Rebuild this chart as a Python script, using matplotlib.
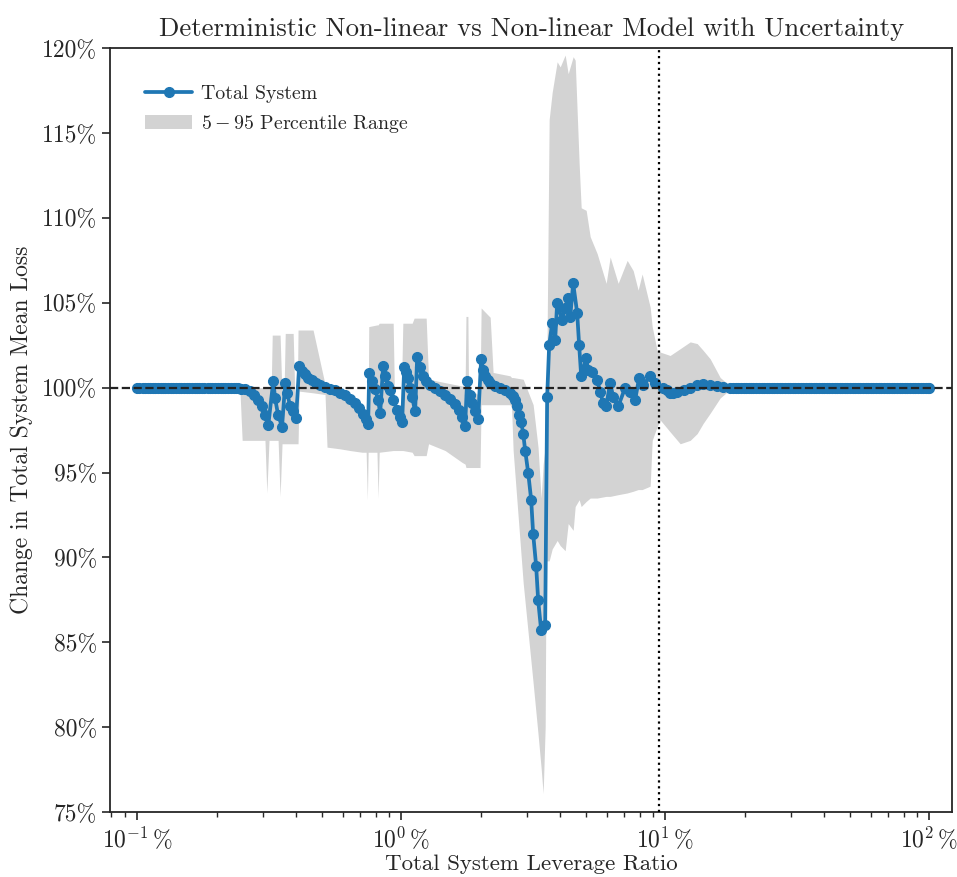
import numpy as np
import matplotlib
matplotlib.use("Agg")
import matplotlib.pyplot as plt
import seaborn as sns
from matplotlib.ticker import FuncFormatter, MultipleLocator, NullFormatter

# leverage ratio (%) and change in total system mean loss (%), deterministic run
# flat start
lev_left = [
    0.100, 0.102, 0.105, 0.107, 0.110, 0.112, 0.115, 0.117, 0.120, 0.123,
    0.125, 0.128, 0.131, 0.134, 0.137, 0.141, 0.144, 0.147, 0.150, 0.154,
    0.157, 0.161, 0.165, 0.169, 0.172, 0.176, 0.180, 0.185, 0.189, 0.193,
    0.198, 0.202, 0.207, 0.212, 0.216, 0.221, 0.226, 0.232, 0.237, 0.242,
    0.248,
]
loss_left = [
    100.0, 100.0, 100.0, 100.0, 100.0, 100.0, 100.0, 100.0, 100.0, 100.0,
    100.0, 100.0, 100.0, 100.0, 100.0, 100.0, 100.0, 100.0, 100.0, 100.0,
    100.0, 100.0, 100.0, 100.0, 100.0, 100.0, 100.0, 100.0, 100.0, 100.0,
    100.0, 100.0, 100.0, 100.0, 100.0, 100.0, 99.99, 99.99, 99.98, 99.97,
    99.95,
]
# saw-tooth part
lev_mid = [
    0.257, 0.268, 0.278,
    0.287, 0.298, 0.305, 0.314, 0.328, 0.333, 0.342, 0.354, 0.364, 0.370,
    0.380, 0.390, 0.400, 0.411, 0.422, 0.433, 0.444, 0.460, 0.476, 0.493,
    0.515, 0.538, 0.562, 0.587, 0.614, 0.641, 0.670, 0.693, 0.718, 0.737,
    0.750, 0.757, 0.777, 0.797, 0.818, 0.833, 0.855, 0.870, 0.893, 0.909,
    0.933, 0.966, 0.991, 1.009, 1.027, 1.044, 1.063, 1.082, 1.101, 1.130,
    1.150, 1.180, 1.212, 1.244, 1.288, 1.346, 1.405, 1.468, 1.533, 1.601,
    1.658, 1.702, 1.747, 1.778, 1.825, 1.857, 1.907, 1.958, 2.009, 2.045,
    2.081, 2.136, 2.174, 2.271, 2.371, 2.477, 2.587, 2.656, 2.703, 2.751,
    2.799, 2.848, 2.899, 2.950, 3.028, 3.108, 3.162, 3.246, 3.303, 3.391,
    3.512, 3.573, 3.636, 3.733, 3.831, 3.899, 4.073, 4.181, 4.292, 4.368,
    4.483, 4.642, 4.723, 4.807, 5.021, 5.109, 5.290, 5.526, 5.672, 5.823,
    5.977, 6.190, 6.353, 6.637, 7.054, 7.369, 7.698, 7.972, 8.254, 8.773,
    9.166, 9.826, 10.18, 10.44, 10.72, 11.10, 11.80, 12.44, 13.22, 13.93,
    14.81, 15.74, 16.59, 17.63,
]
loss_mid = [
    99.9, 99.8, 99.6,
    99.3, 98.9, 98.4, 97.8, 100.4, 99.4, 98.4, 97.7, 100.3, 99.7,
    98.9, 98.6, 98.2, 101.3, 101.0, 100.8, 100.6, 100.45, 100.3, 100.15,
    100.05, 99.95, 99.85, 99.7, 99.55, 99.35, 99.1, 98.8, 98.45, 98.15,
    97.85, 100.85, 100.4, 99.9, 99.3, 98.5, 101.3, 100.7, 100.1, 99.85,
    99.3, 98.7, 98.3, 98.0, 101.2, 100.9, 100.6, 100.0, 99.45, 98.6,
    101.8, 101.2, 100.7, 100.4, 100.15, 100.0, 99.8, 99.6, 99.35, 99.05,
    98.7, 98.3, 97.75, 100.4, 99.6, 99.1, 98.6, 98.15, 101.7, 101.05,
    100.7, 100.45, 100.3, 100.1, 100.0, 99.85, 99.7, 99.5, 99.3, 98.9,
    98.4, 98.0, 97.3, 96.3, 95.0, 93.4, 91.4, 89.5, 87.5, 85.7,
    86.0, 99.45, 102.5, 103.8, 102.8, 105.0, 104.0, 104.7, 105.3, 104.15,
    106.15, 104.4, 102.5, 100.7, 101.75, 101.05, 100.95, 100.45, 99.75, 99.1,
    98.9, 100.3, 99.45, 98.9, 100.0, 99.75, 99.3, 100.6, 100.15, 100.7,
    100.3, 100.0, 99.85, 99.7, 99.7, 99.75, 99.85, 100.0, 100.15, 100.2,
    100.15, 100.1, 100.05, 100.0,
]
# flat end
lev_right = [
    18.0, 18.5, 18.9, 19.3, 19.8, 20.2, 20.7, 21.1, 21.6, 22.1,
    22.6, 23.2, 23.7, 24.2, 24.8, 25.4, 25.9, 26.5, 27.2, 27.8,
    28.4, 29.1, 29.7, 30.4, 31.1, 31.8, 32.6, 33.3, 34.1, 34.9,
    35.7, 36.5, 37.3, 38.2, 39.1, 40.0, 40.9, 41.8, 42.8, 43.8,
    44.8, 45.8, 46.8, 47.9, 49.0, 50.2, 51.3, 52.5, 53.7, 54.9,
    56.2, 57.5, 58.8, 60.1, 61.5, 62.9, 64.4, 65.9, 67.4, 68.9,
    70.5, 72.1, 73.8, 75.5, 77.2, 79.0, 80.8, 82.7, 84.6, 86.5,
    88.5, 90.6, 92.7, 94.8, 97.0, 99.2, 100.0,
]
loss_right = [
    100.0, 100.0, 100.0, 100.0, 100.0, 100.0, 100.0, 100.0, 100.0, 100.0,
    100.0, 100.0, 100.0, 100.0, 100.0, 100.0, 100.0, 100.0, 100.0, 100.0,
    100.0, 100.0, 100.0, 100.0, 100.0, 100.0, 100.0, 100.0, 100.0, 100.0,
    100.0, 100.0, 100.0, 100.0, 100.0, 100.0, 100.0, 100.0, 100.0, 100.0,
    100.0, 100.0, 100.0, 100.0, 100.0, 100.0, 100.0, 100.0, 100.0, 100.0,
    100.0, 100.0, 100.0, 100.0, 100.0, 100.0, 100.0, 100.0, 100.0, 100.0,
    100.0, 100.0, 100.0, 100.0, 100.0, 100.0, 100.0, 100.0, 100.0, 100.0,
    100.0, 100.0, 100.0, 100.0, 100.0, 100.0, 100.0,
]

# 5-95 percentile range of the model with uncertainty
lev_band = [
    0.100, 0.245, 0.250, 0.305, 0.310, 0.316, 0.322, 0.325, 0.342, 0.348,
    0.354, 0.360, 0.364, 0.390, 0.397, 0.404, 0.407, 0.411, 0.464, 0.515,
    0.524, 0.587, 0.641, 0.711, 0.737, 0.745, 0.750, 0.754, 0.810, 0.818,
    0.826, 0.933, 0.945, 1.000, 1.015, 1.101, 1.120, 1.244, 1.270, 1.468,
    1.702, 1.747, 1.760, 1.790, 1.800, 1.990, 2.009, 2.174, 2.230, 2.587,
    2.620, 2.656, 2.899, 3.162, 3.300, 3.390, 3.450, 3.512, 3.540, 3.573,
    3.636, 3.733, 3.899, 4.003, 4.181, 4.292, 4.483, 4.562, 4.723, 4.807,
    5.021, 5.200, 5.526, 5.977, 6.190, 6.637, 7.180, 7.565, 7.900, 8.180,
    8.773, 8.930, 9.320, 9.580, 10.44, 11.40, 12.44, 13.22, 13.93, 14.81,
    16.16, 17.63, 20.00, 100.0,
]
band_low = [
    100.0, 100.0, 96.9, 96.9, 93.8, 96.9, 96.9, 96.9, 96.9, 93.6,
    96.7, 96.7, 96.7, 96.7, 96.7, 96.7, 96.7, 99.8, 99.7, 99.6,
    96.5, 96.4, 96.3, 96.2, 96.2, 93.4, 96.2, 96.2, 96.2, 93.5,
    96.2, 96.3, 96.3, 96.3, 96.3, 96.2, 96.0, 96.0, 96.7, 96.3,
    95.6, 95.5, 95.3, 95.3, 95.3, 95.3, 99.0, 99.0, 99.0, 99.0,
    98.8, 96.3, 88.5, 82.6, 79.6, 77.6, 76.1, 80.0, 89.8, 89.8,
    89.8, 90.5, 91.0, 90.7, 90.4, 92.0, 91.6, 93.0, 93.4, 93.0,
    93.3, 93.5, 93.5, 93.6, 93.6, 93.7, 93.8, 93.9, 94.0, 94.0,
    94.2, 96.9, 97.7, 98.1, 97.4, 96.7, 96.9, 97.3, 97.9, 98.5,
    99.4, 99.9, 100.0, 100.0,
]
band_high = [
    100.0, 100.0, 100.0, 100.0, 100.0, 100.0, 100.0, 103.1, 103.1, 103.1,
    99.5, 99.5, 103.2, 103.2, 98.8, 98.8, 103.4, 103.4, 103.4, 100.2,
    100.1, 99.9, 99.5, 98.9, 98.4, 98.2, 98.1, 103.6, 103.7, 103.7,
    103.8, 103.8, 99.0, 99.0, 103.8, 103.8, 104.1, 104.1, 100.5, 100.3,
    100.1, 100.1, 104.2, 104.2, 100.0, 99.5, 104.7, 104.15, 100.9, 100.7,
    100.6, 100.6, 100.5, 99.0, 96.5, 93.5, 95.5, 96.5, 97.5, 103.4,
    115.8, 117.4, 119.2, 118.9, 119.6, 118.5, 119.5, 119.3, 113.2, 110.6,
    110.45, 108.9, 107.9, 106.15, 107.7, 106.15, 107.5, 106.9, 105.75, 106.7,
    104.75, 103.6, 102.2, 102.1, 101.9, 102.3, 102.7, 102.6, 102.2, 101.7,
    100.6, 100.1, 100.0, 100.0,
]

baseline = 100.0
vline_lev = 9.5

lev_line = lev_left + lev_mid + lev_right
loss_line = loss_left + loss_mid + loss_right

sns.set_style("ticks")
plt.rcParams["font.family"] = "serif"
plt.rcParams["font.serif"] = ["cmr10"]
plt.rcParams["mathtext.fontset"] = "cm"
plt.rcParams["axes.formatter.use_mathtext"] = True
plt.rcParams["axes.unicode_minus"] = False

fig = plt.figure(figsize=(9.57, 8.77), dpi=100)
ax = fig.add_axes([0.115, 0.074, 0.880, 0.871])

band = ax.fill_between(lev_band, band_low, band_high, color="lightgray", lw=0, zorder=1)
line, = ax.plot(lev_line, loss_line, "-o", color="#1f77b4", lw=2.7, ms=7, zorder=2)
ax.axhline(baseline, ls="--", color="#222222", lw=1.6, zorder=3)
ax.axvline(vline_lev, ls=":", color="black", lw=1.6, zorder=3)

ax.set_xscale("log")
ax.set_xlim(0.079, 122.2)
ax.set_ylim(75, 120)
ax.yaxis.set_major_locator(MultipleLocator(5))
ax.yaxis.set_major_formatter(FuncFormatter(lambda v, p: f"{v:.0f}%"))
ax.xaxis.set_major_formatter(FuncFormatter(lambda v, p: r"$10^{%d}\,\%%$" % int(round(np.log10(v)))))
ax.xaxis.set_minor_formatter(NullFormatter())

ax.tick_params(which="major", length=6, width=1.2, labelsize=17, colors="#262626")
ax.tick_params(which="minor", length=3.5, width=1.0)
for s in ax.spines.values():
    s.set_linewidth(1.3)
    s.set_color("#262626")

ax.set_title("Deterministic Non-linear vs Non-linear Model with Uncertainty", fontsize=19.3,
             color="#262626", pad=9)
ax.set_xlabel("Total System Leverage Ratio", fontsize=16.5, color="#262626", labelpad=2)
ax.set_ylabel("Change in Total System Mean Loss", fontsize=17, color="#262626", labelpad=6)

ax.legend([line, band], ["Total System", r"$5-95$ Percentile Range"], loc="upper left",
          bbox_to_anchor=(0.02, 0.975), frameon=False, fontsize=14.3, handlelength=2.4,
          handletextpad=0.45)

fig.savefig("out.png", dpi=100)
